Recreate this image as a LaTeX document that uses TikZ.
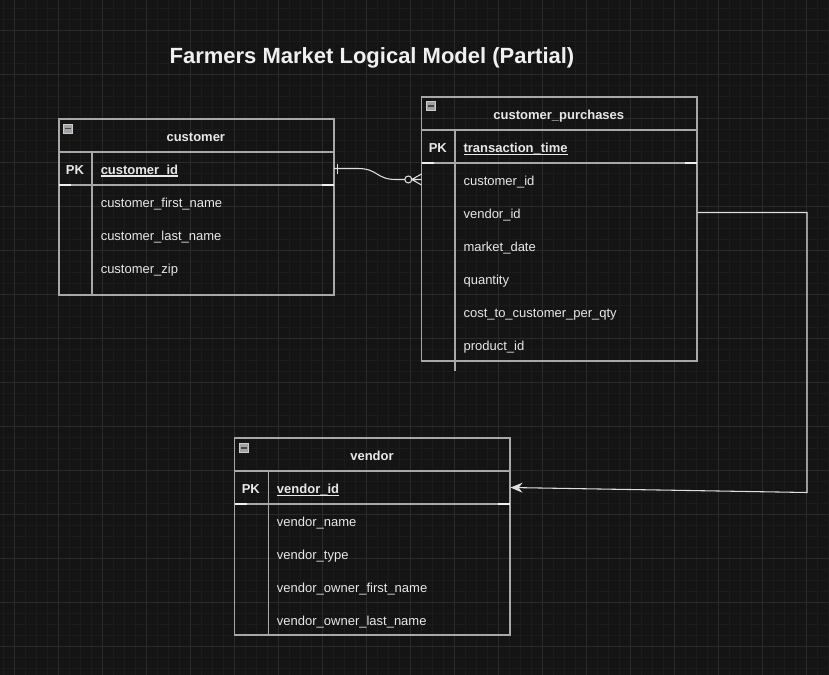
\documentclass[tikz,border=0pt]{standalone}
\usepackage{fontspec}
\setmainfont{Liberation Sans}
\usepackage{tikz}
\usepackage{xcolor}
\usetikzlibrary{arrows.meta}

\definecolor{canvas}{RGB}{20,20,20}
\definecolor{gridmin}{RGB}{27,27,27}
\definecolor{gridmaj}{RGB}{42,42,42}
\definecolor{tline}{RGB}{168,168,168}
\definecolor{tbright}{RGB}{240,240,240}
\definecolor{txt}{RGB}{232,232,232}
\definecolor{relcol}{RGB}{222,222,222}
\definecolor{iconfill}{RGB}{160,162,168}
\definecolor{iconbar}{RGB}{70,70,72}

% underlined key field
\newcommand{\ulkey}[1]{\sbox0{#1}\rlap{\vrule height -1pt depth 2pt width \wd0}\box0}

\tikzset{
  tbl/.style={draw=tline, line width=1.1pt},
  pkmark/.style={draw=tbright, line width=1.1pt},
  fld/.style={anchor=base west, inner sep=0pt, text=txt, font=\fontsize{9.75}{12}\selectfont},
  keyfld/.style={fld, font=\bfseries\fontsize{9.75}{12}\selectfont},
  pklbl/.style={anchor=base, inner sep=0pt, text=txt, font=\bfseries\fontsize{9.75}{12}\selectfont},
  hdr/.style={anchor=base, inner sep=0pt, text=txt, font=\bfseries\fontsize{9.75}{12}\selectfont},
  iconbox/.style={draw=gray!40, fill=iconfill, line width=0.6pt},
  iconline/.style={draw=iconbar, line width=1.3pt},
  relline/.style={draw=relcol, line width=0.8pt},
}

\begin{document}
\begin{tikzpicture}[x=0.75pt,y=0.75pt,yscale=-1,xscale=1]
%Background and grid
\fill [canvas] (0,0) rectangle (829,675);
\useasboundingbox (0,0) rectangle (829,675);
\foreach \gx in {0,...,75} \draw [gridmin, line width=0.6pt] (3.3+11*\gx,0) -- (3.3+11*\gx,675);
\foreach \gy in {0,...,61} \draw [gridmin, line width=0.6pt] (0,8.3+11*\gy) -- (829,8.3+11*\gy);
\foreach \gx in {0,...,18} \draw [gridmaj, line width=0.75pt] (14.3+44*\gx,0) -- (14.3+44*\gx,675);
\foreach \gy in {0,...,15} \draw [gridmaj, line width=0.75pt] (0,30.3+44*\gy) -- (829,30.3+44*\gy);

% Text Node
\draw (372,58) node (title) [text=tbright, font=\bfseries\fontsize{16.5}{20}\selectfont] {Farmers Market Logical Model (Partial)};

%Shape: Table customer
\draw [tbl] (59,119) rectangle (334,295);
\draw [tbl] (59,152) -- (334,152);
\draw [tbl] (59,185) -- (334,185);
\draw [tbl] (92,152) -- (92,295);
\draw [pkmark] (59,185) -- (71,185) (322,185) -- (334,185);
\draw [iconbox] (63,124) rectangle (72.5,133);
\draw [iconline] (65,128.5) -- (70.5,128.5);

%Shape: Table customer_purchases
\draw [tbl] (421.5,97) rectangle (697,361);
\draw [tbl] (421.5,130) -- (697,130);
\draw [tbl] (421.5,163) -- (697,163);
\draw [tbl] (455,130) -- (455,371);
\draw [pkmark] (421.5,163) -- (434,163) (685,163) -- (697,163);
\draw [iconbox] (426,101.5) rectangle (435.5,110.5);
\draw [iconline] (428,106) -- (433.5,106);

%Shape: Table vendor
\draw [tbl] (234.5,438) rectangle (510,635);
\draw [tbl] (234.5,471) -- (510,471);
\draw [tbl] (234.5,504) -- (510,504);
\draw [tbl] (268.3,471) -- (268.3,635);
\draw [pkmark] (234.5,504) -- (247,504) (498,504) -- (510,504);
\draw [iconbox] (239.3,443.3) rectangle (248.8,452.3);
\draw [iconline] (241.3,447.8) -- (246.8,447.8);

% Text Node
\draw (195.8,141) node (custhead) [hdr] {customer};
\draw (75,174) node (custpk) [pklbl] {PK};
\draw (100.5,174) node (custid) [keyfld] {\ulkey{customer\_id}};
\draw (100.5,207) node (custfirst) [fld] {customer\_first\_name};
\draw (100.5,240) node (custlast) [fld] {customer\_last\_name};
\draw (100.5,273) node (custzip) [fld] {customer\_zip};

% Text Node
\draw (558.8,119) node (cphead) [hdr] {customer\_purchases};
\draw (437.8,152.5) node (cppk) [pklbl] {PK};
\draw (463.3,152.5) node (cptime) [keyfld] {\ulkey{transaction\_time}};
\draw (463.3,185.5) node (cpcust) [fld] {customer\_id};
\draw (463.3,218.5) node (cpvend) [fld] {vendor\_id};
\draw (463.3,251.5) node (cpdate) [fld] {market\_date};
\draw (463.3,284.5) node (cpqty) [fld] {quantity};
\draw (463.3,317.5) node (cpcost) [fld] {cost\_to\_customer\_per\_qty};
\draw (463.3,350.5) node (cpprod) [fld] {product\_id};

% Text Node
\draw (372,460.5) node (vendhead) [hdr] {vendor};
\draw (250.8,493.5) node (vendpk) [pklbl] {PK};
\draw (276.7,493.5) node (vendid) [keyfld] {\ulkey{vendor\_id}};
\draw (276.7,526.5) node (vendname) [fld] {vendor\_name};
\draw (276.7,559.5) node (vendtype) [fld] {vendor\_type};
\draw (276.7,592.5) node (vendfirst) [fld] {vendor\_owner\_first\_name};
\draw (276.7,625.5) node (vendlast) [fld] {vendor\_owner\_last\_name};

%Relations
\coordinate (custlink) at (334,168.5);
\coordinate (cplink) at (421.5,179.5);
\coordinate (cpvendlink) at (697.5,212.5);
\coordinate (vendlink) at (510.5,487.5);
% one customer to zero or many purchases
\draw [relline] (custlink) -- (358,168.5) .. controls (378,168.5) and (376,179.5) .. (396,179.5) -- (404.8,179.5);
\draw [relline] (337.5,163.5) -- (337.5,173.5);
\draw [relline] (408.3,179.5) circle [radius=3.5];
\draw [relline] (411.8,179.5) -- (cplink) (411.8,179.5) -- (421.5,174) (411.8,179.5) -- (421.5,185);
% purchases vendor_id to vendor
\draw [relline, -{Stealth[length=9pt,width=7.5pt]}] (cpvendlink) -- (807,212.5) -- (807,492.5) -- (vendlink);

\end{tikzpicture}
\end{document}
